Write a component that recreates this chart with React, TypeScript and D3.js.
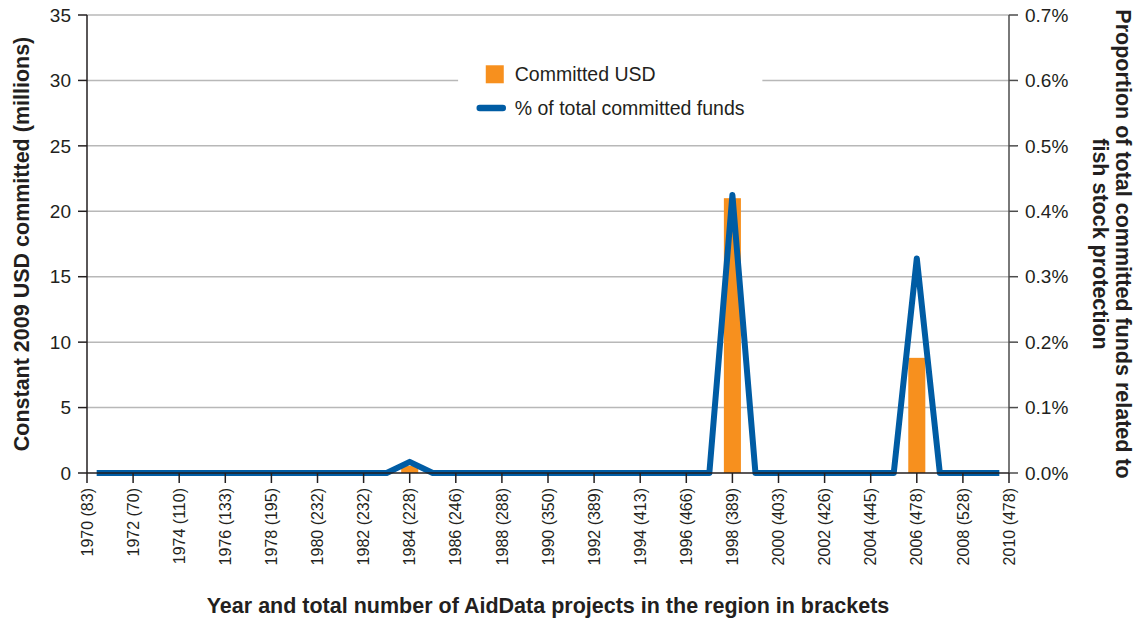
import * as d3 from "d3";

// years on the axis, 1970–2010
const years = d3.range(1970, 2011);

// committed funds, constant 2009 USD millions (only non-zero years listed)
const committedYears = [1984, 1998, 2006];
const committedUsd = [0.55, 21.0, 8.8];

// % of total committed funds
const pctYears = years;
const pctValues = years.map((y) => (y === 1984 ? 0.017 : y === 1998 ? 0.425 : y === 2006 ? 0.328 : 0));

// labelled ticks: year (number of AidData projects)
const tickYears = [1970, 1972, 1974, 1976, 1978, 1980, 1982, 1984, 1986, 1988, 1990, 1992, 1994, 1996, 1998, 2000, 2002, 2004, 2006, 2008, 2010];
const tickProjects = [83, 70, 110, 133, 195, 232, 232, 228, 246, 288, 350, 389, 413, 466, 389, 403, 426, 445, 478, 528, 478];

const leftTicks = [0, 5, 10, 15, 20, 25, 30, 35];
const rightTicks = [0, 0.1, 0.2, 0.3, 0.4, 0.5, 0.6, 0.7];

const W = 1140;
const H = 619;
const margin = { top: 15, right: 131, bottom: 146, left: 87 };
const FONT = "'Liberation Sans', Arial, Helvetica, sans-serif";
const TEXT = "#231f20";
const ORANGE = "#f7901e";
const BLUE = "#005ca4";
const GRID = "#b8b8b8";

export default function App() {
  const iw = W - margin.left - margin.right;
  const ih = H - margin.top - margin.bottom;

  const x = d3.scaleLinear().domain([1970, 2010]).range([0, iw]);
  const yL = d3.scaleLinear().domain([0, 35]).range([ih, 0]);
  const yR = d3.scaleLinear().domain([0, 0.7]).range([ih, 0]);
  const step = x(1971) - x(1970);
  const barW = step * 0.74;

  const line = d3
    .line<number>()
    .x((_, i) => x(pctYears[i]))
    .y((d) => yR(d));

  // legend anchor
  const lgX = x(1987.3);

  return (
    <svg width={W} height={H} style={{ position: "absolute", left: 0, top: 0, fontFamily: FONT }}>
      <defs>
        <clipPath id="lineClip">
          <rect x={x(1970) + step * 0.42} y={-20} width={x(2010) - x(1970) - step * 0.84} height={ih + 40} />
        </clipPath>
      </defs>
      <g transform={`translate(${margin.left},${margin.top})`}>
        {/* gridlines */}
        {leftTicks.filter((t) => t > 0).map((t) => (
          <line key={t} x1={0} x2={iw} y1={yL(t)} y2={yL(t)} stroke={GRID} strokeWidth={1.5} />
        ))}

        {/* legend background */}
        <rect x={x(1986.1)} y={yL(33.5)} width={x(1999.3) - x(1986.1)} height={yL(26.3) - yL(33.5)} fill="#fff" />

        {/* bars */}
        {committedYears.map((yr, i) => (
          <rect key={yr} x={x(yr) - barW / 2} y={yL(committedUsd[i])} width={barW} height={ih - yL(committedUsd[i])} fill={ORANGE} />
        ))}

        {/* line */}
        <path d={line(pctValues) ?? ""} fill="none" stroke={BLUE} strokeWidth={6} strokeLinejoin="round" strokeLinecap="round" clipPath="url(#lineClip)" />

        {/* left axis */}
        <line x1={0} x2={0} y1={0} y2={ih} stroke={TEXT} strokeWidth={1.5} />
        {leftTicks.map((t) => (
          <g key={t} transform={`translate(0,${yL(t)})`}>
            <line x1={-9} x2={0} stroke={TEXT} strokeWidth={1.5} />
            <text x={-16} dy="0.35em" textAnchor="end" fontSize={19} fill={TEXT}>{t}</text>
          </g>
        ))}

        {/* right axis */}
        <line x1={iw} x2={iw} y1={0} y2={ih} stroke="#4d4d4d" strokeWidth={1.5} />
        {rightTicks.map((t) => (
          <g key={t} transform={`translate(${iw},${yR(t)})`}>
            <line x1={0} x2={9} stroke="#4d4d4d" strokeWidth={1.5} />
            <text x={16} dy="0.35em" textAnchor="start" fontSize={19} fill={TEXT}>{t.toFixed(1)}%</text>
          </g>
        ))}

        {/* bottom axis */}
        <line x1={0} x2={iw} y1={ih} y2={ih} stroke={TEXT} strokeWidth={1.5} />
        {tickYears.map((yr, i) => (
          <g key={yr} transform={`translate(${x(yr)},${ih})`}>
            <line y1={0} y2={10} stroke={TEXT} strokeWidth={1.5} />
            <text transform="rotate(-90)" x={-15} dy="0.35em" textAnchor="end" fontSize={16} fill={TEXT}>
              {`${yr} (${tickProjects[i]})`}
            </text>
          </g>
        ))}

        {/* legend */}
        <rect x={lgX} y={yL(30.47) - 9} width={18} height={18} fill={ORANGE} />
        <text x={lgX + 29} y={yL(30.47)} dy="0.35em" fontSize={19.5} fill={TEXT}>Committed USD</text>
        <line x1={lgX - 6} x2={lgX + 17} y1={yL(27.9)} y2={yL(27.9)} stroke={BLUE} strokeWidth={6.5} strokeLinecap="round" />
        <text x={lgX + 29} y={yL(27.9)} dy="0.35em" fontSize={19.5} fill={TEXT}>% of total committed funds</text>
      </g>

      {/* axis titles */}
      <text
        transform={`translate(21,${margin.top + ih / 2}) rotate(-90)`}
        textAnchor="middle"
        dy="0.35em"
        fontSize={21.5}
        fontWeight="bold"
        fill={TEXT}
      >
        Constant 2009 USD committed (millions)
      </text>
      <text
        x={margin.left + iw / 2}
        y={605}
        textAnchor="middle"
        dy="0.35em"
        fontSize={21.5}
        fontWeight="bold"
        fill={TEXT}
      >
        Year and total number of AidData projects in the region in brackets
      </text>
      <text
        transform={`translate(1124,${margin.top + ih / 2}) rotate(90)`}
        textAnchor="middle"
        fontSize={21.5}
        fontWeight="bold"
        fill={TEXT}
      >
        <tspan x={0} dy="0.35em">Proportion of total committed funds related to</tspan>
        <tspan x={0} dy="1.1em">fish stock protection</tspan>
      </text>
    </svg>
  );
}
